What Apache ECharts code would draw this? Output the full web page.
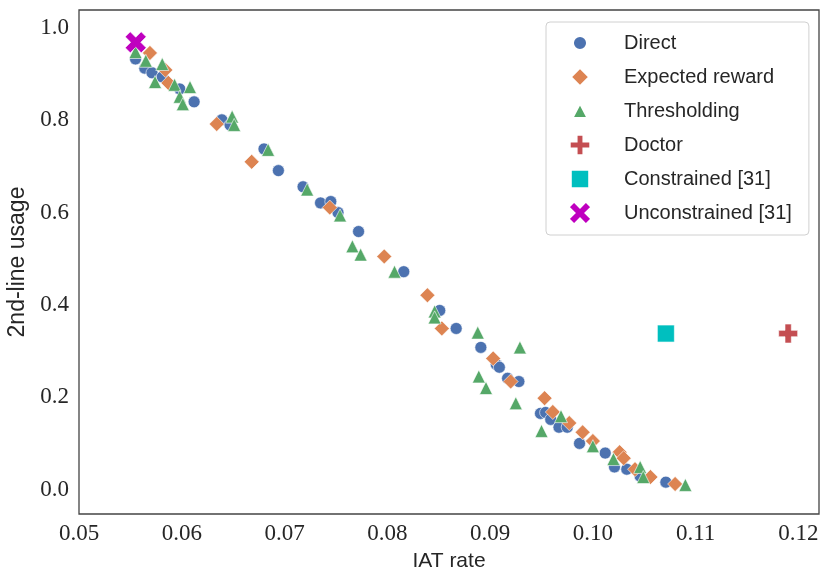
<!DOCTYPE html>
<html lang="en">
<head>
    <meta charset="UTF-8">
    <script src="https://cdn.jsdelivr.net/npm/echarts@6.0.0/dist/echarts.min.js"></script>
    <title>IAT rate vs 2nd-line usage</title>
    <style>
      html, body { margin: 0; padding: 0; background: #fff; }
    </style>
</head>
<body>
    <div id="main" style="width: 830px;height:586px;"></div>
    <script type="text/javascript">

      // points: [IAT rate, 2nd-line usage]
      var direct = [
        [0.0555, 0.933], [0.0564, 0.913], [0.0571, 0.903], [0.0581, 0.894],
        [0.0598, 0.868], [0.0612, 0.840], [0.0639, 0.801], [0.0647, 0.790],
        [0.0680, 0.738], [0.0694, 0.691], [0.0718, 0.656], [0.0735, 0.621],
        [0.0745, 0.624], [0.0752, 0.600], [0.0772, 0.559], [0.0816, 0.472],
        [0.0851, 0.388], [0.0867, 0.349], [0.0891, 0.308], [0.0906, 0.271],
        [0.0909, 0.265], [0.0917, 0.241], [0.0928, 0.234], [0.0949, 0.165],
        [0.0954, 0.167], [0.0959, 0.152], [0.0967, 0.135], [0.0975, 0.135],
        [0.0987, 0.100], [0.1012, 0.079], [0.1021, 0.049], [0.1033, 0.044],
        [0.1046, 0.029], [0.1071, 0.016]
      ];
      var expectedReward = [
        [0.0569, 0.946], [0.0584, 0.909], [0.0587, 0.881], [0.0634, 0.792],
        [0.0668, 0.710], [0.0744, 0.611], [0.0797, 0.505], [0.0839, 0.421],
        [0.0853, 0.349], [0.0903, 0.284], [0.0920, 0.234], [0.0953, 0.198],
        [0.0961, 0.168], [0.0977, 0.144], [0.0990, 0.124], [0.1000, 0.105],
        [0.1026, 0.081], [0.1030, 0.068], [0.1041, 0.044], [0.1056, 0.027],
        [0.1080, 0.012]
      ];
      var thresholding = [
        [0.0555, 0.948], [0.0565, 0.929], [0.0581, 0.922], [0.0574, 0.883],
        [0.0593, 0.877], [0.0608, 0.872], [0.0598, 0.851], [0.0601, 0.835],
        [0.0649, 0.808], [0.0651, 0.790], [0.0684, 0.736], [0.0722, 0.650],
        [0.0754, 0.594], [0.0766, 0.527], [0.0774, 0.509], [0.0807, 0.472],
        [0.0846, 0.386], [0.0846, 0.373], [0.0888, 0.340], [0.0929, 0.308],
        [0.0889, 0.245], [0.0896, 0.220], [0.0925, 0.187], [0.0950, 0.127],
        [0.0969, 0.159], [0.1000, 0.094], [0.1020, 0.066], [0.1046, 0.049],
        [0.1049, 0.027], [0.1090, 0.010]
      ];
      var doctor = [[0.1190, 0.338]];
      var constrained = [[0.1071, 0.338]];
      var unconstrained = [[0.05552, 0.969]];

      var xTicks = [0.05, 0.06, 0.07, 0.08, 0.09, 0.10, 0.11, 0.12];
      var yTicks = [0.0, 0.2, 0.4, 0.6, 0.8, 1.0];

      var plusPath = 'path://M1,0H2V1H3V2H2V3H1V2H0V1H1Z';
      var crossPath = 'path://M0,2.4L2.4,0L5,2.6L7.6,0L10,2.4L7.4,5L10,7.6L7.6,10L5,7.4L2.4,10L0,7.6L2.6,5Z';

      // legend icons drawn in a fixed 24x24 box so each keeps its plotted size
      var legendIcons = {
        'Direct': 'path://M0,0M24,24M18.5,12A6.5,6.5,0,1,1,5.5,12A6.5,6.5,0,1,1,18.5,12Z',
        'Expected reward': 'path://M0,0M24,24M12,3.5L20.5,12L12,20.5L3.5,12Z',
        'Thresholding': 'path://M0,0M24,24M12,5L19,18.5L5,18.5Z',
        'Doctor': 'path://M0,0M24,24M8.83,2.5H15.17V8.83H21.5V15.17H15.17V21.5H8.83V15.17H2.5V8.83H8.83Z',
        'Constrained [31]': 'path://M0,0M24,24M3.5,3.5H20.5V20.5H3.5Z',
        'Unconstrained [31]': 'path://M0,0M24,24M1.5,6.54L6.54,1.5L12,6.96L17.46,1.5L22.5,6.54L17.04,12L22.5,17.46L17.46,22.5L12,17.04L6.54,22.5L1.5,17.46L6.96,12Z'
      };

      var sansFont = 'Liberation Sans';
      var serifFont = 'Liberation Serif';
      var textColor = '#262626';

      function scatter(name, data, symbol, size, color) {
        return {
          name: name,
          type: 'scatter',
          data: data,
          symbol: symbol,
          symbolSize: size,
          itemStyle: { color: color, borderColor: '#fff', borderWidth: 0.6, opacity: 1 },
          emphasis: { disabled: true }
        };
      }

      var series = [
        scatter('Direct', direct, 'circle', 12, '#4C72B0'),
        scatter('Expected reward', expectedReward, 'diamond', 15, '#DD8452'),
        scatter('Thresholding', thresholding, 'triangle', 13, '#55A868'),
        scatter('Doctor', doctor, plusPath, 19, '#C44E52'),
        scatter('Constrained [31]', constrained, 'rect', 17, '#00BFBF'),
        scatter('Unconstrained [31]', unconstrained, crossPath, 21, '#BF00BF')
      ];

      var myChart = echarts.init(document.getElementById('main'), null, { renderer: 'canvas' });

      var option = {
        backgroundColor: '#fff',
        animation: false,
        grid: {
          left: 79, right: 11, top: 10, bottom: 72,
          show: true, borderColor: '#444', borderWidth: 1.3,
          containLabel: false, outerBoundsMode: 'none'
        },
        legend: {
          orient: 'vertical',
          left: 546, top: 22,
          padding: [7, 17, 8, 20],
          itemGap: 6,
          itemWidth: 26,
          itemHeight: 26,
          borderColor: '#d0d0d0',
          borderWidth: 1,
          borderRadius: 4,
          backgroundColor: 'rgba(255,255,255,0.8)',
          selectedMode: false,
          data: series.map(function (s) {
            return { name: s.name, icon: legendIcons[s.name] };
          }),
          textStyle: {
            fontFamily: sansFont, fontSize: 20, color: textColor,
            padding: [0, 0, 0, 26], lineHeight: 20
          }
        },
        xAxis: {
          type: 'value',
          min: 0.05, max: 0.122,
          name: 'IAT rate',
          nameLocation: 'middle',
          nameGap: 37,
          nameTextStyle: { fontFamily: sansFont, fontSize: 21, color: textColor },
          axisLine: { show: false },
          axisTick: { show: false },
          splitLine: { show: false },
          axisLabel: {
            customValues: xTicks,
            margin: 8,
            fontFamily: serifFont, fontSize: 23, color: textColor,
            formatter: function (v) { return v.toFixed(2); }
          }
        },
        yAxis: {
          type: 'value',
          min: -0.053, max: 1.039,
          name: '2nd-line usage',
          nameLocation: 'middle',
          nameGap: 47,
          nameTextStyle: { fontFamily: sansFont, fontSize: 23, color: textColor },
          axisLine: { show: false },
          axisTick: { show: false },
          splitLine: { show: false },
          axisLabel: {
            customValues: yTicks,
            margin: 10,
            fontFamily: serifFont, fontSize: 23, color: textColor,
            formatter: function (v) { return v.toFixed(1); }
          }
        },
        series: series
      };

      myChart.setOption(option);
    </script>
</body>
</html>
